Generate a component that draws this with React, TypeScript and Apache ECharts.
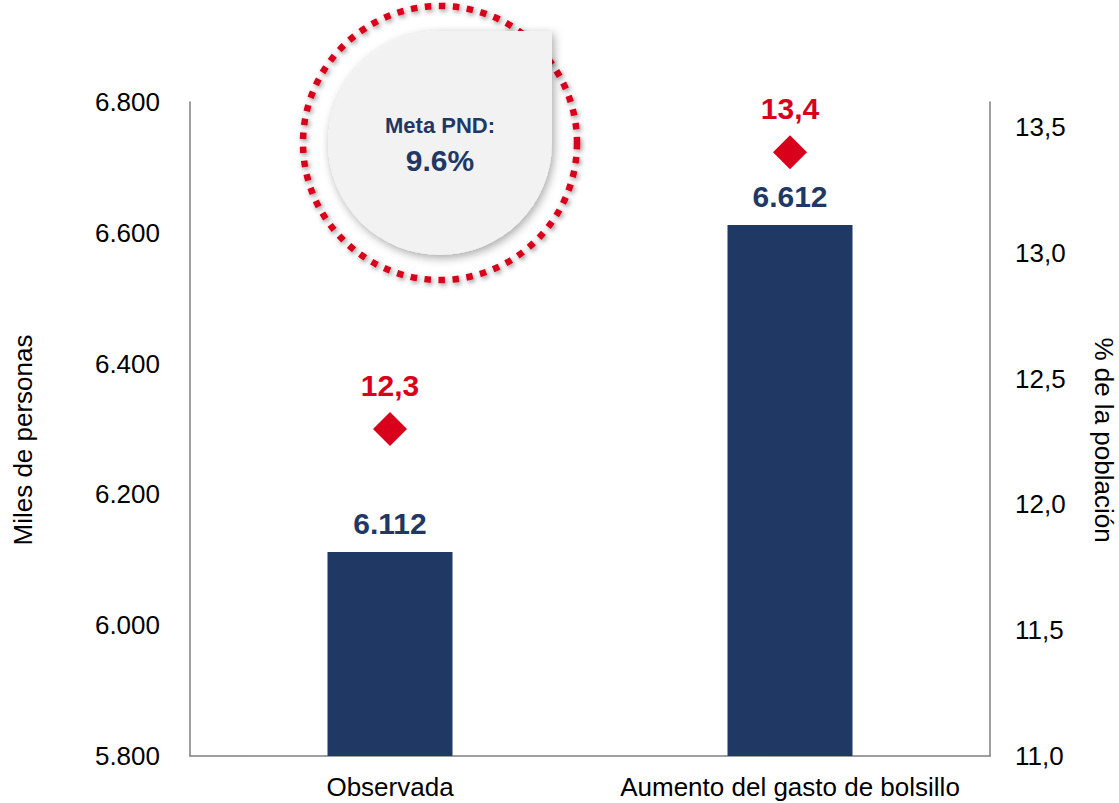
import React, { useEffect, useRef } from "react";
import * as echarts from "echarts";

const categories = ["Observada", "Aumento del gasto de bolsillo"];
const personas = [6112, 6612];
const porcentaje = [12.3, 13.4];
const leftTicks = { min: 5800, max: 6800, interval: 200 };
const rightTicks = { min: 11, max: 13.6, interval: 0.5 };
const metaTitle = "Meta PND:";
const metaValue = "9.6%";

const NAVY = "#1f3864";
const RED = "#d9001b";
const FONT = "'Liberation Sans', Arial, sans-serif";

const R = 112;
echarts.graphic.registerShape(
  "teardrop",
  echarts.graphic.extendPath(
    `M0,${-R} L${R},${-R} L${R},0 A${R},${R} 0 1 1 0,${-R} Z`,
    {}
  )
);

const thousands = (v: number) =>
  String(Math.round(v)).replace(/\B(?=(\d{3})+(?!\d))/g, ".");
const decimalComma = (v: number) => v.toFixed(1).replace(".", ",");

export default function App() {
  const ref = useRef<HTMLDivElement>(null);

  useEffect(() => {
    if (!ref.current) return;
    const chart = echarts.init(ref.current, null, { renderer: "svg" });
    chart.setOption({
      animation: false,
      backgroundColor: "#ffffff",
      textStyle: { fontFamily: FONT },
      grid: {
        left: 190,
        right: 129,
        top: 102,
        bottom: 47,
        containLabel: false,
        outerBoundsMode: "none",
      },
      xAxis: {
        type: "category",
        data: categories,
        axisLine: { show: true, lineStyle: { color: "#7f7f7f", width: 1.5 } },
        axisTick: { show: false },
        axisLabel: {
          color: "#000",
          fontSize: 26,
          fontFamily: FONT,
          margin: 18,
          interval: 0,
        },
      },
      yAxis: [
        {
          type: "value",
          min: leftTicks.min,
          max: leftTicks.max,
          interval: leftTicks.interval,
          name: "Miles de personas",
          nameLocation: "middle",
          nameRotate: 90,
          nameGap: 154,
          nameTextStyle: {
            color: "#000",
            fontSize: 26,
            fontFamily: FONT,
            padding: [0, 22, 0, 0],
          },
          axisLine: { show: true, lineStyle: { color: "#7f7f7f", width: 1.5 } },
          axisTick: { show: false },
          splitLine: { show: false },
          axisLabel: {
            color: "#000",
            fontSize: 26,
            fontFamily: FONT,
            margin: 30,
            formatter: (v: number) => thousands(v),
          },
        },
        {
          type: "value",
          position: "right",
          min: rightTicks.min,
          max: rightTicks.max,
          interval: rightTicks.interval,
          name: "% de la población",
          nameLocation: "middle",
          nameRotate: -90,
          nameGap: 103,
          nameTextStyle: {
            color: "#000",
            fontSize: 26,
            lineHeight: 22,
            fontFamily: FONT,
            padding: [0, 0, 0, 22],
          },
          axisLine: { show: true, lineStyle: { color: "#7f7f7f", width: 1.5 } },
          axisTick: { show: false },
          splitLine: { show: false },
          axisLabel: {
            color: "#000",
            fontSize: 26,
            fontFamily: FONT,
            margin: 25,
            showMaxLabel: false,
            formatter: (v: number) =>
              Math.abs(v * 2 - Math.round(v * 2)) > 1e-6 ? "" : decimalComma(v),
          },
        },
      ],
      series: [
        {
          type: "bar",
          yAxisIndex: 0,
          data: personas,
          barWidth: 125,
          itemStyle: { color: NAVY },
          label: {
            show: true,
            position: "top",
            distance: 13,
            color: NAVY,
            fontSize: 30,
            fontWeight: "bold",
            fontFamily: FONT,
            formatter: (p: any) => thousands(p.value),
          },
        },
        {
          type: "scatter",
          yAxisIndex: 1,
          data: porcentaje,
          symbol: "diamond",
          symbolSize: [34, 34],
          itemStyle: { color: RED, opacity: 1 },
          label: {
            show: true,
            position: "top",
            distance: 12,
            color: RED,
            fontSize: 30,
            fontWeight: "bold",
            fontFamily: FONT,
            formatter: (p: any) => decimalComma(p.value),
          },
          z: 5,
        },
      ],
      graphic: [
        {
          type: "circle",
          z: 100,
          shape: { cx: 440, cy: 143, r: 137 },
          style: {
            fill: "none",
            stroke: RED,
            lineWidth: 6.5,
            lineDash: [6.5, 7.5],
            shadowBlur: 5,
            shadowColor: "rgba(0,0,0,0.45)",
            shadowOffsetX: 1.5,
            shadowOffsetY: 2,
          },
        },
        {
          type: "teardrop",
          z: 101,
          x: 440,
          y: 143,
          style: {
            fill: "#f2f2f2",
            stroke: "none",
            shadowBlur: 10,
            shadowColor: "rgba(0,0,0,0.35)",
            shadowOffsetX: 2,
            shadowOffsetY: 3,
          },
        },
        {
          type: "text",
          z: 102,
          x: 440,
          y: 125,
          style: {
            text: metaTitle,
            fill: NAVY,
            font: `bold 22px ${FONT}`,
            align: "center",
            verticalAlign: "middle",
          },
        },
        {
          type: "text",
          z: 102,
          x: 440,
          y: 160,
          style: {
            text: metaValue,
            fill: NAVY,
            font: `bold 30px ${FONT}`,
            align: "center",
            verticalAlign: "middle",
          },
        },
      ],
    });
    return () => chart.dispose();
  }, []);

  return (
    <div
      ref={ref}
      style={{ position: "fixed", left: 0, top: 0, width: 1119, height: 803 }}
    />
  );
}
